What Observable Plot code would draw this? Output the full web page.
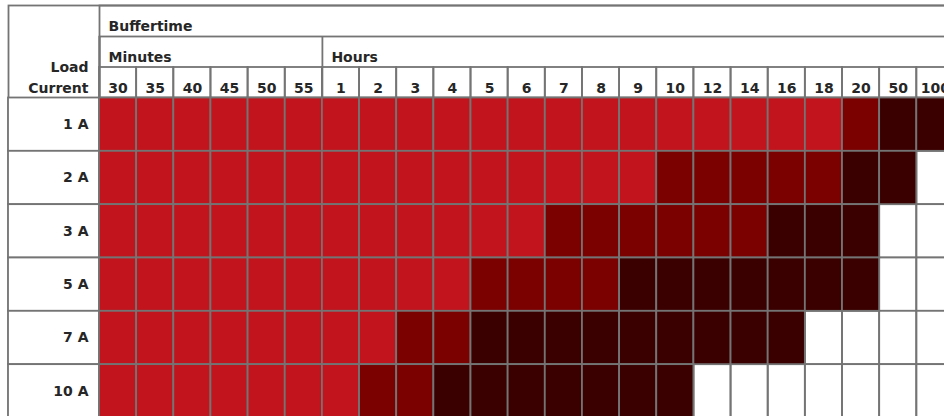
<!DOCTYPE html>
<html>
<head>
<meta charset="utf-8">
<script src="https://cdn.jsdelivr.net/npm/d3@7"></script>
<script src="https://cdn.jsdelivr.net/npm/@observablehq/plot@0.6"></script>
<style>
  html, body { margin: 0; padding: 0; background: #fff; }
  #chart svg { display: block; }
</style>
</head>
<body>
<div id="chart"></div>
<script>
// ---- data ----
const headerTitle = "Buffertime";
const rowHeader = ["Load", "Current"];
const groupNames = ["Minutes", "Hours"];
const minuteTicks = ["30", "35", "40", "45", "50", "55"];
const hourTicks = ["1", "2", "3", "4", "5", "6", "7", "8", "9", "10", "12", "14", "16", "18", "20", "50", "100"];
const loads = ["1 A", "2 A", "3 A", "5 A", "7 A", "10 A"];
// level per cell: 2 = red, 1 = dark red, 0 = darkest, null = not available
const level1A  = [2,2,2,2,2,2, 2,2,2,2,2,2,2,2,2,2,2,2,2,2,1,0,0];
const level2A  = [2,2,2,2,2,2, 2,2,2,2,2,2,2,2,2,1,1,1,1,1,0,0,null];
const level3A  = [2,2,2,2,2,2, 2,2,2,2,2,2,1,1,1,1,1,1,0,0,0,null,null];
const level5A  = [2,2,2,2,2,2, 2,2,2,2,1,1,1,1,0,0,0,0,0,0,0,null,null];
const level7A  = [2,2,2,2,2,2, 2,2,1,1,0,0,0,0,0,0,0,0,0,null,null,null,null];
const level10A = [2,2,2,2,2,2, 2,1,1,0,0,0,0,0,0,0,null,null,null,null,null,null,null];
const levelColors = ["#3a0000", "#7b0000", "#c1141c"];

// ---- build tables ----
const columns = [
  ...minuteTicks.map(t => ({key: "m" + t, label: t, group: groupNames[0]})),
  ...hourTicks.map(t => ({key: "h" + t, label: t, group: groupNames[1]}))
];
const groups = groupNames.map(g => ({name: g, first: columns.find(c => c.group === g).key}));
const levelRows = [level1A, level2A, level3A, level5A, level7A, level10A];
const cells = [];
loads.forEach((load, r) => {
  levelRows[r].forEach((lv, c) => {
    if (lv !== null) cells.push({load, key: columns[c].key, level: lv});
  });
});

// ---- layout ----
const W = 944, H = 416;
const padL = 8, labelRight = 99, padT = 5, hRow = 31, rowH = 53.33;
const colW = 37.15;
const gridStroke = "#747474";
const sw = 1.8;
const txt = {fontSize: 14, fontWeight: 700, fill: "#262626", fontFamily: "'DejaVu Sans', sans-serif"};
const bodyTop = padT + 3 * hRow - 0.5;

const chart = Plot.plot({
  width: W,
  height: H,
  marginLeft: labelRight,
  marginRight: 0,
  marginTop: padT,
  marginBottom: 0,
  style: {background: "#fff", fontFamily: "'DejaVu Sans', sans-serif"},
  x: {type: "band", domain: columns.map(c => c.key), range: [labelRight, labelRight + columns.length * colW], padding: 0, round: false, axis: null},
  y: {type: "band", domain: loads, range: [bodyTop, bodyTop + loads.length * rowH], padding: 0, round: false, axis: null},
  color: {type: "ordinal", domain: [0, 1, 2], range: levelColors},
  marks: [
    Plot.frame({fill: "#fff", stroke: gridStroke, strokeWidth: sw, insetLeft: padL - labelRight, insetRight: -12, insetBottom: -12}),
    Plot.frame({stroke: gridStroke, strokeWidth: sw, insetRight: -12, insetBottom: -12}),
    Plot.frame({stroke: gridStroke, strokeWidth: sw, insetTop: hRow, insetRight: -12, insetBottom: -12}),
    Plot.cell(loads, {y: d => d, fill: "#fff", stroke: gridStroke, strokeWidth: sw, insetLeft: padL - labelRight, insetRight: -12}),
    Plot.cell(columns, {x: "key", fill: "none", stroke: gridStroke, strokeWidth: sw, insetTop: 2 * hRow, insetBottom: -12}),
    Plot.ruleX(groups, {x: "first", dx: -colW / 2, insetTop: hRow, stroke: gridStroke, strokeWidth: sw}),
    Plot.cell(cells, {x: "key", y: "load", fill: "level", stroke: gridStroke, strokeWidth: sw}),
    Plot.text([headerTitle], {text: d => d, frameAnchor: "top-left", textAnchor: "start", dx: 9, dy: hRow / 2, ...txt}),
    Plot.text(groups, {x: "first", text: "name", frameAnchor: "top", textAnchor: "start", dx: -colW / 2 + 9, dy: hRow * 1.5, ...txt}),
    Plot.text(columns, {x: "key", text: "label", frameAnchor: "top", dy: hRow * 2.5 - 0.25, ...txt}),
    Plot.text([rowHeader[0]], {text: d => d, frameAnchor: "top-left", textAnchor: "end", dx: -11, dy: 57, ...txt}),
    Plot.text([rowHeader[1]], {text: d => d, frameAnchor: "top-left", textAnchor: "end", dx: -11, dy: hRow * 2.5 - 0.25, ...txt}),
    Plot.text(loads, {y: d => d, text: d => d, frameAnchor: "left", textAnchor: "end", dx: -11, ...txt})
  ]
});
document.getElementById("chart").appendChild(chart);
</script>
</body>
</html>
